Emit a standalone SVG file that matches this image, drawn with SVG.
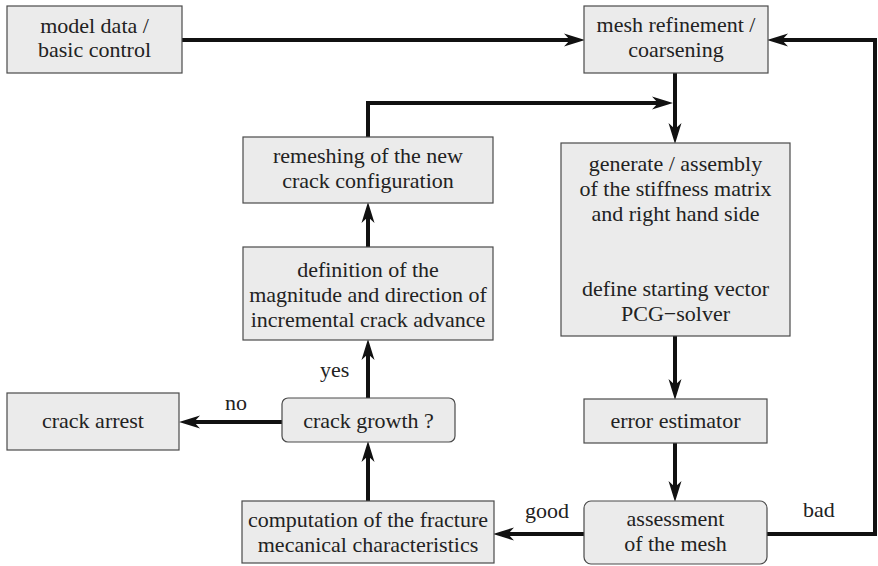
<svg xmlns="http://www.w3.org/2000/svg" width="878" height="566" viewBox="0 0 878 566">
  <style>
    .box { fill: #ebebeb; stroke: #4a4a4a; stroke-width: 1.2; }
    text { font-family: 'Liberation Serif', 'Times New Roman', Times, 'DejaVu Serif', serif; font-size: 22px; fill: #222; }
    .lbl { text-anchor: middle; }
    .edge { fill: none; stroke: #111; stroke-width: 4; marker-end: url(#head); }
  </style>
  <defs>
    <!-- stealth-style arrowhead; line ends 10px before the tip -->
    <marker id="head" markerUnits="userSpaceOnUse" markerWidth="22" markerHeight="16" viewBox="0 0 22 16" refX="10" refY="8" orient="auto">
      <path d="M0,1.5 L21,8 L0,14.5 L6,8 Z" fill="#111"/>
    </marker>
  </defs>
  <rect width="878" height="566" fill="#fff"/>

  <g id="connectors">
    <path class="edge" d="M182,40 H574"/>
    <path class="edge" d="M767,534 H875 V40 H778"/>
    <path class="edge" d="M675,73 V133"/>
    <path class="edge" d="M368,137 V103 H662"/>
    <path class="edge" d="M368,247 V213"/>
    <path class="edge" d="M368,398 V350"/>
    <path class="edge" d="M368,501 V452"/>
    <path class="edge" d="M282,422 H190"/>
    <path class="edge" d="M675,336 V389"/>
    <path class="edge" d="M675,443 V491"/>
    <path class="edge" d="M584,534 H504"/>
    <text x="320" y="377">yes</text>
    <text x="225" y="410">no</text>
    <text x="525" y="518">good</text>
    <text x="803" y="517">bad</text>
  </g>

  <g id="model-data">
    <rect class="box" x="7" y="6" width="175" height="67"/>
    <text class="lbl" x="94.5" y="33">model data /</text>
    <text class="lbl" x="94.5" y="57">basic control</text>
  </g>

  <g id="mesh-refinement">
    <rect class="box" x="584" y="6" width="184" height="67"/>
    <text class="lbl" x="676" y="32">mesh refinement /</text>
    <text class="lbl" x="676" y="57">coarsening</text>
  </g>

  <g id="remeshing">
    <rect class="box" x="243" y="137" width="250" height="66"/>
    <text class="lbl" x="368" y="163">remeshing of the new</text>
    <text class="lbl" x="368" y="188">crack configuration</text>
  </g>

  <g id="generate">
    <rect class="box" x="561" y="143" width="229" height="193"/>
    <text class="lbl" x="675.5" y="171">generate / assembly</text>
    <text class="lbl" x="675.5" y="196">of the stiffness matrix</text>
    <text class="lbl" x="675.5" y="221">and right hand side</text>
    <text class="lbl" x="675.5" y="296">define starting vector</text>
    <text class="lbl" x="675.5" y="321">PCG−solver</text>
  </g>

  <g id="definition">
    <rect class="box" x="243" y="247" width="250" height="93"/>
    <text class="lbl" x="368" y="277">definition of the</text>
    <text class="lbl" x="368" y="302">magnitude and direction of</text>
    <text class="lbl" x="368" y="327">incremental crack advance</text>
  </g>

  <g id="crack-arrest">
    <rect class="box" x="7" y="393" width="172" height="57"/>
    <text class="lbl" x="93" y="428">crack arrest</text>
  </g>

  <g id="crack-growth">
    <rect class="box" x="282" y="398" width="173" height="44" rx="6"/>
    <text class="lbl" x="368.5" y="428">crack growth ?</text>
  </g>

  <g id="error-estimator">
    <rect class="box" x="584" y="399" width="183" height="44"/>
    <text class="lbl" x="675.5" y="428">error estimator</text>
  </g>

  <g id="computation">
    <rect class="box" x="242" y="501" width="252" height="62"/>
    <text class="lbl" x="368" y="527">computation of the fracture</text>
    <text class="lbl" x="368" y="552">mecanical characteristics</text>
  </g>

  <g id="assessment">
    <rect class="box" x="584" y="501" width="183" height="63" rx="7"/>
    <text class="lbl" x="675.5" y="526">assessment</text>
    <text class="lbl" x="675.5" y="551">of the mesh</text>
  </g>
</svg>
